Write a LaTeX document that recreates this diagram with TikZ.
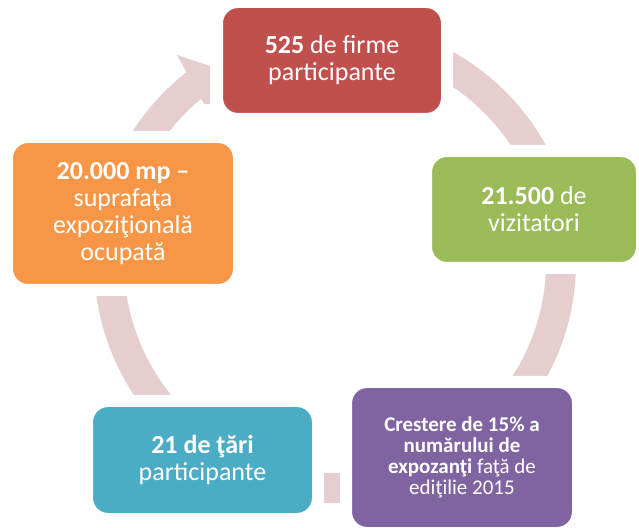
\documentclass[tikz,border=0pt]{standalone}
\usepackage{fontspec}
\setmainfont{Carlito}
\usepackage{tikz}

\definecolor{ringpink}{RGB}{230,206,207}
\definecolor{firmred}{RGB}{192,80,77}
\definecolor{vizgreen}{RGB}{155,187,89}
\definecolor{expopurple}{RGB}{128,100,162}
\definecolor{taraqua}{RGB}{75,172,198}
\definecolor{mporange}{RGB}{247,150,70}

\begin{document}
\begin{tikzpicture}[x=1pt,y=1pt]
\tikzstyle{box}=[draw=white, line width=12pt, rounded corners=21pt, inner sep=0pt,
  align=center, text=white, font=\fontsize{26}{27}\selectfont]
\useasboundingbox (0,0) rectangle (639,527);
% ring behind the boxes
\coordinate (hub) at (335,265);
\draw [ringpink, line width=30pt] (hub) ++(100:226) arc[start angle=100, end angle=-232, radius=226];
\fill [ringpink] (177,472) -- (210,461) -- (210,423) -- (204,423) -- cycle;
% boxes
\node [box, fill=firmred, minimum width=230pt, minimum height=117pt] (firme) at (332,466.5)
  {\textbf{525} de firme\\participante};
\node [box, fill=vizgreen, minimum width=216pt, minimum height=117pt] (vizitatori) at (534,317.5)
  {\textbf{21.500} de\\vizitatori};
\node [box, fill=expopurple, minimum width=232pt, minimum height=151pt,
  font=\fontsize{21}{21}\selectfont] (expozanti) at (462,69.5)
  {\textbf{Crestere de 15\% a}\\\textbf{numărului de}\\\textbf{expozanţi} faţă de\\ediţilie 2015};
\node [box, fill=taraqua, minimum width=231pt, minimum height=118pt] (tari) at (202.5,67)
  {\textbf{21 de ţări}\\participante};
\node [box, fill=mporange, minimum width=232pt, minimum height=153pt] (suprafata) at (123,313.5)
  {\textbf{20.000 mp –}\\suprafaţa\\expoziţională\\ocupată};
\end{tikzpicture}
\end{document}
